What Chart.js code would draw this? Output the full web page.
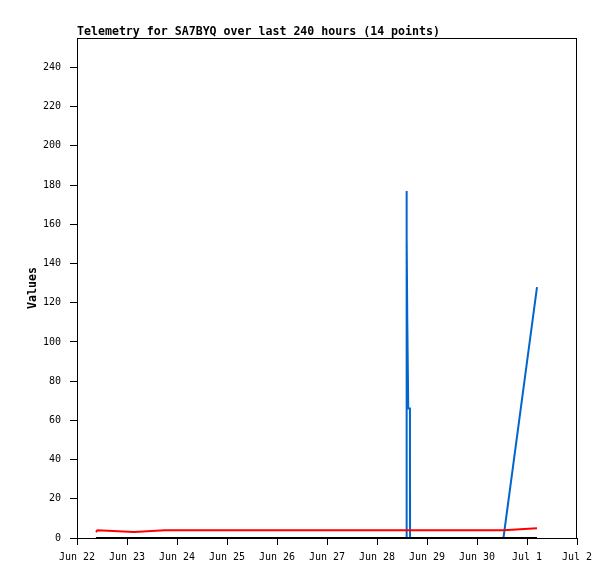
<!DOCTYPE html>
<html><head><meta charset="utf-8">
<script src="https://cdn.jsdelivr.net/npm/chart.js@4"></script>
<style>html,body{margin:0;padding:0;background:#fff}canvas{display:block}</style>
</head><body>
<canvas id="c" width="615" height="579"></canvas>
<script>
// hours since Jun 22 00:00
const hours = [9.1, 9.8, 27.4, 42.2, 158.14, 158.16, 158.3, 158.55, 159.0, 159.82, 159.84, 159.86, 204.7, 220.8];
const redValues   = [3, 4, 3, 4, 4, 4, 4, 4, 4, 4, 4, 4, 4, 5];
const blueValues  = [0, 0, 0, 0, 0, 177, 154, 110, 66, 66, 23, 0, 0, 128];
const blackValues = [0, 0, 0, 0, 0, 0, 0, 0, 0, 0, 0, 0, 0, 0];
const dayLabels = ["Jun 22","Jun 23","Jun 24","Jun 25","Jun 26","Jun 27","Jun 28","Jun 29","Jun 30","Jul 1","Jul 2"];
const yTickValues = [0,20,40,60,80,100,120,140,160,180,200,220,240];
const titleText = "Telemetry for SA7BYQ over last 240 hours (14 points)";
const yAxisTitle = "Values";

const pts = (vals) => hours.map((h, i) => ({x: h, y: vals[i]}));
const mono = '"DejaVu Sans Mono", "Liberation Mono", monospace';

const framePlugin = {
  id: 'frame',
  afterDraw(chart) {
    const {ctx, chartArea: a} = chart;
    ctx.save();
    ctx.strokeStyle = '#000';
    ctx.lineWidth = 1;
    ctx.strokeRect(a.left + 0.5, a.top + 0.5, a.right - a.left - 1, a.bottom - a.top);
    ctx.fillStyle = '#000';
    ctx.font = 'bold 11.6px ' + mono;
    ctx.textBaseline = 'alphabetic';
    ctx.textAlign = 'left';
    ctx.fillText(titleText, 77, 35);
    ctx.translate(36, (a.top + a.bottom) / 2);
    ctx.rotate(-Math.PI / 2);
    ctx.textAlign = 'center';
    ctx.fillText(yAxisTitle, 0, 0);
    ctx.restore();
  }
};

new Chart(document.getElementById('c'), {
  type: 'line',
  data: {
    datasets: [
      {data: pts(redValues), borderColor: '#ff0000', borderWidth: 2, pointRadius: 0, tension: 0, order: 0},
      {data: pts(blackValues), borderColor: '#000000', borderWidth: 2, pointRadius: 0, tension: 0, order: 1},
      {data: pts(blueValues), borderColor: '#0066cc', borderWidth: 2, pointRadius: 0, tension: 0, order: 2}
    ]
  },
  options: {
    responsive: false,
    animation: false,
    devicePixelRatio: 1,
    layout: {padding: {top: 38, right: 38, left: 0, bottom: 0}},
    plugins: {legend: {display: false}, tooltip: {enabled: false}, title: {display: false}},
    scales: {
      x: {
        type: 'linear', min: 0, max: 240,
        ticks: {stepSize: 24, autoSkip: false, maxRotation: 0, color: '#000', padding: 6,
          font: {family: mono, size: 10},
          callback: (v) => dayLabels[Math.round(v / 24)]},
        grid: {drawOnChartArea: false, tickLength: 7, color: '#000'},
        border: {color: '#000', width: 1},
        afterFit: (s) => { s.height = 41; }
      },
      y: {
        min: 0, max: 255,
        ticks: {stepSize: 20, color: '#000', padding: 9, font: {family: mono, size: 10}},
        afterBuildTicks: (s) => { s.ticks = yTickValues.map(v => ({value: v})); },
        grid: {drawOnChartArea: false, tickLength: 7, color: '#000'},
        border: {color: '#000', width: 1},
        afterFit: (s) => { s.width = 77; }
      }
    }
  },
  plugins: [framePlugin]
});
</script>
</body></html>
